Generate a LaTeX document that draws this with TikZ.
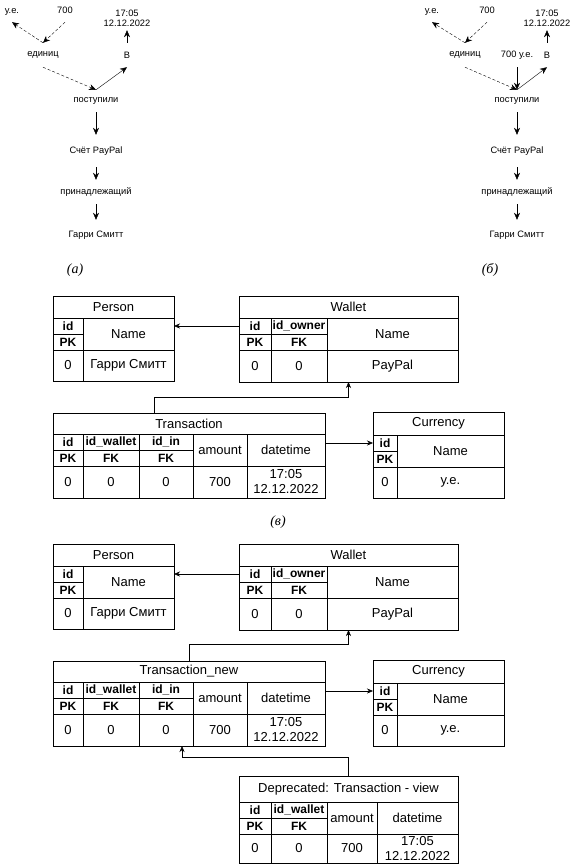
\documentclass[tikz,border=0pt]{standalone}
\usepackage{fontspec}
\setmainfont{Liberation Sans}
\newfontfamily\capfont{Liberation Serif}
\usepackage{tikz}
\usetikzlibrary{arrows.meta}
\pgfdeclarelayer{nodelayer}
\pgfdeclarelayer{edgelayer}
\pgfsetlayers{nodelayer,edgelayer,main}
\newcommand{\graphfont}{\fontsize{9.3}{10}\selectfont}
\newcommand{\tablefont}{\fontsize{13}{15}\selectfont}
\newcommand{\keyfont}{\fontsize{12}{13}\selectfont\bfseries}
\tikzset{
    word/.style = {inner sep=0pt, font=\graphfont, align=center},
    caption/.style = {inner sep=0pt, font=\capfont\itshape\fontsize{14}{16}\selectfont},
    cell/.style = {draw, inner sep=0pt, outer sep=0pt, anchor=north west, font=\tablefont, align=center},
    key/.style = {cell, font=\keyfont},
    arrow/.style = {-{Stealth[length=7pt,width=6pt]}},
    hint/.style = {arrow, dash pattern=on 3pt off 2pt},
    link/.style = {-{Stealth[length=6pt,width=5pt]}}
}

\begin{document}
\begin{tikzpicture}[x=1pt, y=-1pt, line width=0.9pt]
    \useasboundingbox (0, 0) rectangle (571, 866);
    \begin{pgfonlayer}{nodelayer}
        % (a)
        \node [style=word, minimum height=20] (0) at (12, 12) {у.е.};
        \node [style=word, minimum height=24] (1) at (65, 10) {700};
        \node [style=word, minimum height=24] (2) at (127, 18) {17:05\\12.12.2022};
        \node [style=word, minimum height=24] (3) at (43, 55) {единиц};
        \node [style=word, minimum height=24] (4) at (127, 55) {В};
        \node [style=word, minimum height=22] (5) at (96, 101) {поступили};
        \node [style=word, minimum height=32] (6) at (96, 151) {Счёт PayPal};
        \node [style=word, minimum height=24] (7) at (96, 192) {принадлежащий};
        \node [style=word, minimum height=30] (8) at (96, 235) {Гарри Смитт};
        % (b)
        \node [style=word, minimum height=20] (9) at (432, 12) {у.е.};
        \node [style=word, minimum height=24] (10) at (487, 10) {700};
        \node [style=word, minimum height=24] (11) at (547, 18) {17:05\\12.12.2022};
        \node [style=word, minimum height=24] (12) at (465, 55) {единиц};
        \node [style=word, minimum height=24] (13) at (517, 55) {700 у.е.};
        \node [style=word, minimum height=24] (14) at (547, 55) {В};
        \node [style=word, minimum height=22] (15) at (517, 101) {поступили};
        \node [style=word, minimum height=32] (16) at (517, 151) {Счёт PayPal};
        \node [style=word, minimum height=24] (17) at (517, 192) {принадлежащий};
        \node [style=word, minimum height=30] (18) at (517, 235) {Гарри Смитт};
        % captions
        \node [style=caption] (19) at (75, 270) {(а)};
        \node [style=caption] (20) at (490, 270) {(б)};
        \node [style=caption] (21) at (278, 522) {(в)};
        % Person
        \node [style=cell, minimum width=121, minimum height=22] (22) at (53, 296) {Person};
        \node [style=key, minimum width=30, minimum height=16] (23) at (53, 318) {id};
        \node [style=key, minimum width=30, minimum height=16] (24) at (53, 334) {PK};
        \node [style=cell, minimum width=91, minimum height=32] (25) at (83, 318) {Name};
        \node [style=cell, minimum width=30, minimum height=31] (26) at (53, 350) {0};
        \node [style=cell, minimum width=91, minimum height=31] (27) at (83, 350) {Гарри Смитт};
        % Wallet
        \node [style=cell, minimum width=219, minimum height=22] (28) at (239, 296) {Wallet};
        \node [style=key, minimum width=32, minimum height=16] (29) at (239, 318) {id};
        \node [style=key, minimum width=32, minimum height=16] (30) at (239, 334) {PK};
        \node [style=key, minimum width=56, minimum height=16] (31) at (271, 318) {id\_owner};
        \node [style=key, minimum width=56, minimum height=16] (32) at (271, 334) {FK};
        \node [style=cell, minimum width=131, minimum height=32] (33) at (327, 318) {Name};
        \node [style=cell, minimum width=32, minimum height=32] (34) at (239, 350) {0};
        \node [style=cell, minimum width=56, minimum height=32] (35) at (271, 350) {0};
        \node [style=cell, minimum width=131, minimum height=32] (36) at (327, 350) {PayPal};
        % Transaction
        \node [style=cell, minimum width=272, minimum height=21] (37) at (53, 413) {Transaction};
        \node [style=key, minimum width=30, minimum height=16] (38) at (53, 434) {id};
        \node [style=key, minimum width=30, minimum height=16] (39) at (53, 450) {PK};
        \node [style=key, minimum width=56, minimum height=16] (40) at (83, 434) {id\_wallet};
        \node [style=key, minimum width=56, minimum height=16] (41) at (83, 450) {FK};
        \node [style=key, minimum width=54, minimum height=16] (42) at (139, 434) {id\_in};
        \node [style=key, minimum width=54, minimum height=16] (43) at (139, 450) {FK};
        \node [style=cell, minimum width=54, minimum height=32] (44) at (193, 434) {amount};
        \node [style=cell, minimum width=78, minimum height=32] (45) at (247, 434) {datetime};
        \node [style=cell, minimum width=30, minimum height=32] (46) at (53, 466) {0};
        \node [style=cell, minimum width=56, minimum height=32] (47) at (83, 466) {0};
        \node [style=cell, minimum width=54, minimum height=32] (48) at (139, 466) {0};
        \node [style=cell, minimum width=54, minimum height=32] (49) at (193, 466) {700};
        \node [style=cell, minimum width=78, minimum height=32] (50) at (247, 466) {17:05\\12.12.2022};
        % Currency
        \node [style=cell, minimum width=131, minimum height=23] (51) at (373, 412) {Currency};
        \node [style=key, minimum width=24, minimum height=16] (52) at (373, 435) {id};
        \node [style=key, minimum width=24, minimum height=16] (53) at (373, 451) {PK};
        \node [style=cell, minimum width=107, minimum height=32] (54) at (397, 435) {Name};
        \node [style=cell, minimum width=24, minimum height=31] (55) at (373, 467) {0};
        \node [style=cell, minimum width=107, minimum height=31] (56) at (397, 467) {у.е.};
        % Person (new)
        \node [style=cell, minimum width=121, minimum height=22] (57) at (53, 544) {Person};
        \node [style=key, minimum width=30, minimum height=16] (58) at (53, 566) {id};
        \node [style=key, minimum width=30, minimum height=16] (59) at (53, 582) {PK};
        \node [style=cell, minimum width=91, minimum height=32] (60) at (83, 566) {Name};
        \node [style=cell, minimum width=30, minimum height=31] (61) at (53, 598) {0};
        \node [style=cell, minimum width=91, minimum height=31] (62) at (83, 598) {Гарри Смитт};
        % Wallet (new)
        \node [style=cell, minimum width=219, minimum height=22] (63) at (239, 544) {Wallet};
        \node [style=key, minimum width=32, minimum height=16] (64) at (239, 566) {id};
        \node [style=key, minimum width=32, minimum height=16] (65) at (239, 582) {PK};
        \node [style=key, minimum width=56, minimum height=16] (66) at (271, 566) {id\_owner};
        \node [style=key, minimum width=56, minimum height=16] (67) at (271, 582) {FK};
        \node [style=cell, minimum width=131, minimum height=32] (68) at (327, 566) {Name};
        \node [style=cell, minimum width=32, minimum height=32] (69) at (239, 598) {0};
        \node [style=cell, minimum width=56, minimum height=32] (70) at (271, 598) {0};
        \node [style=cell, minimum width=131, minimum height=32] (71) at (327, 598) {PayPal};
        % Transaction_new
        \node [style=cell, minimum width=272, minimum height=21] (72) at (53, 661) {Transaction\_new};
        \node [style=key, minimum width=30, minimum height=16] (73) at (53, 682) {id};
        \node [style=key, minimum width=30, minimum height=16] (74) at (53, 698) {PK};
        \node [style=key, minimum width=56, minimum height=16] (75) at (83, 682) {id\_wallet};
        \node [style=key, minimum width=56, minimum height=16] (76) at (83, 698) {FK};
        \node [style=key, minimum width=54, minimum height=16] (77) at (139, 682) {id\_in};
        \node [style=key, minimum width=54, minimum height=16] (78) at (139, 698) {FK};
        \node [style=cell, minimum width=54, minimum height=32] (79) at (193, 682) {amount};
        \node [style=cell, minimum width=78, minimum height=32] (80) at (247, 682) {datetime};
        \node [style=cell, minimum width=30, minimum height=32] (81) at (53, 714) {0};
        \node [style=cell, minimum width=56, minimum height=32] (82) at (83, 714) {0};
        \node [style=cell, minimum width=54, minimum height=32] (83) at (139, 714) {0};
        \node [style=cell, minimum width=54, minimum height=32] (84) at (193, 714) {700};
        \node [style=cell, minimum width=78, minimum height=32] (85) at (247, 714) {17:05\\12.12.2022};
        % Currency (new)
        \node [style=cell, minimum width=131, minimum height=23] (86) at (373, 660) {Currency};
        \node [style=key, minimum width=24, minimum height=16] (87) at (373, 683) {id};
        \node [style=key, minimum width=24, minimum height=16] (88) at (373, 699) {PK};
        \node [style=cell, minimum width=107, minimum height=32] (89) at (397, 683) {Name};
        \node [style=cell, minimum width=24, minimum height=31] (90) at (373, 715) {0};
        \node [style=cell, minimum width=107, minimum height=31] (91) at (397, 715) {у.е.};
        % Deprecated view
        \node [style=cell, minimum width=219, minimum height=26] (92) at (239, 776) {Deprecated: Transaction - view};
        \node [style=key, minimum width=32, minimum height=16] (93) at (239, 802) {id};
        \node [style=key, minimum width=32, minimum height=16] (94) at (239, 818) {PK};
        \node [style=key, minimum width=56, minimum height=16] (95) at (271, 802) {id\_wallet};
        \node [style=key, minimum width=56, minimum height=16] (96) at (271, 818) {FK};
        \node [style=cell, minimum width=50, minimum height=32] (97) at (327, 802) {amount};
        \node [style=cell, minimum width=81, minimum height=32] (98) at (377, 802) {datetime};
        \node [style=cell, minimum width=32, minimum height=29] (99) at (239, 834) {0};
        \node [style=cell, minimum width=56, minimum height=29] (100) at (271, 834) {0};
        \node [style=cell, minimum width=50, minimum height=29] (101) at (327, 834) {700};
        \node [style=cell, minimum width=81, minimum height=29] (102) at (377, 834) {17:05\\12.12.2022};
    \end{pgfonlayer}
    \begin{pgfonlayer}{edgelayer}
        \draw [style=hint] (1.south) to (3.north);
        \draw [style=hint] (3.north) to (0.south);
        \draw [style=hint] (3.south) to (5.north);
        \draw [style=arrow] (5.north) to (4.south);
        \draw [style=arrow] (4.north) to (2.south);
        \draw [style=arrow] (5.south) to (6.north);
        \draw [style=arrow] (6.south) to (7.north);
        \draw [style=arrow] (7.south) to (8.north);
        \draw [style=hint] (10.south) to (12.north);
        \draw [style=hint] (12.north) to (9.south);
        \draw [style=hint] (12.south) to (15.north);
        \draw [style=arrow] (13.south) to (15.north);
        \draw [style=arrow] (15.north) to (14.south);
        \draw [style=arrow] (14.north) to (11.south);
        \draw [style=arrow] (15.south) to (16.north);
        \draw [style=arrow] (16.south) to (17.north);
        \draw [style=arrow] (17.south) to (18.north);
        \draw [style=link] (29.west) to (29.west -| 27.east);
        \draw [style=link] ([xshift=-35pt]37.north) -- ++(0, -16) -| (28.south |- 36.south);
        \draw [style=link] (45.east |- 52.west) to (52.west);
        \draw [style=link] (64.west) to (64.west -| 62.east);
        \draw [style=link] (72.north) -- ++(0, -17) -| (63.south |- 71.south);
        \draw [style=link] (80.east |- 87.west) to (87.west);
        \draw [style=link] (92.north) -- ++(0, -19) -| ([xshift=-7pt]72.south |- 83.south);
    \end{pgfonlayer}
\end{tikzpicture}
\end{document}
